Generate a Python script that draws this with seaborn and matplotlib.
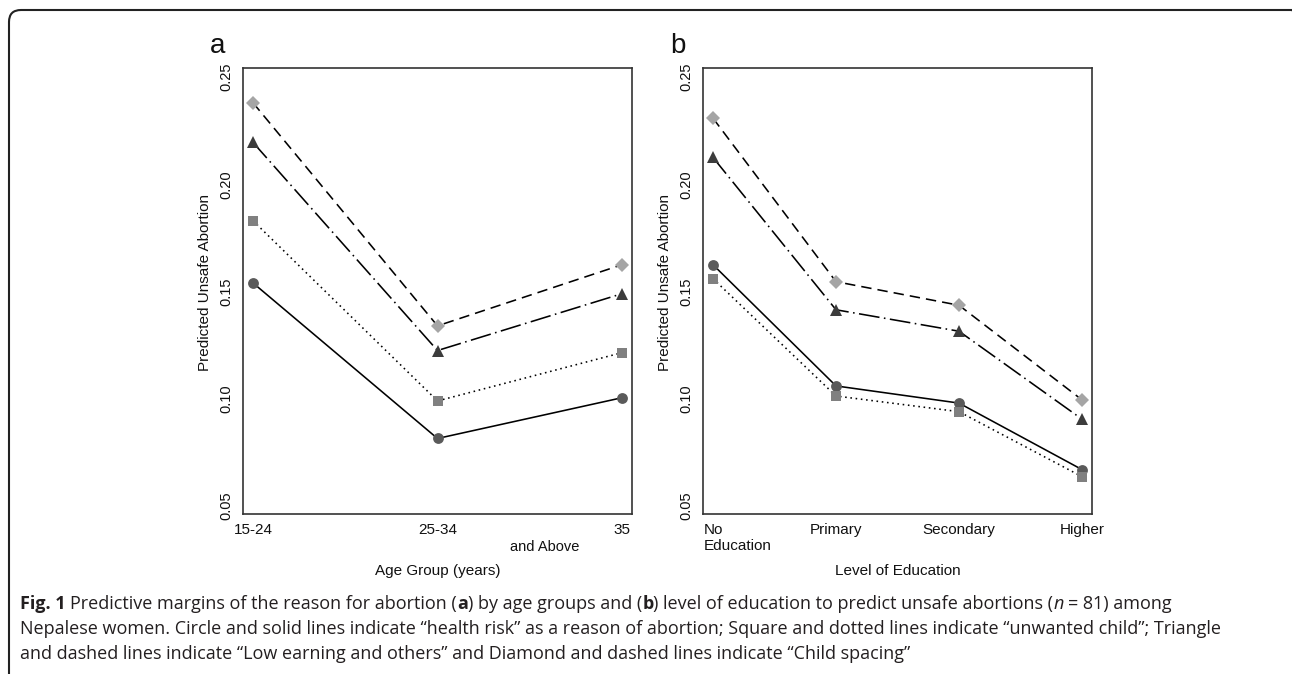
import numpy as np
import pandas as pd
import matplotlib
matplotlib.use("Agg")
import matplotlib.pyplot as plt
import seaborn as sns
from matplotlib.patches import FancyBboxPatch
from matplotlib.transforms import ScaledTranslation

# ---------------- data ----------------
age_groups = ["15-24", "25-34", "35"]
education_levels = ["No\nEducation", "Primary", "Secondary", "Higher"]
y_ticks = [0.05, 0.10, 0.15, 0.20, 0.25]
y_tick_labels = ["0.05", "0.10", "0.15", "0.20", "0.25"]

age_health_risk = [0.154, 0.0815, 0.1005]
age_unwanted_child = [0.183, 0.099, 0.1215]
age_low_earning = [0.2195, 0.1225, 0.149]
age_child_spacing = [0.238, 0.134, 0.1625]

edu_health_risk = [0.1625, 0.106, 0.098, 0.067]
edu_unwanted_child = [0.156, 0.1013, 0.094, 0.0637]
edu_low_earning = [0.2125, 0.1415, 0.1315, 0.0905]
edu_child_spacing = [0.2308, 0.1546, 0.1436, 0.0995]

series_names = ["health risk", "unwanted child", "low earning", "child spacing"]

# ---------------- style ----------------
sns.set_style("white")
plt.rcParams["font.family"] = ["Liberation Sans", "DejaVu Sans"]

W, H, DPI = 1292, 674, 100
fig = plt.figure(figsize=(W / DPI, H / DPI), dpi=DPI)

styles = {
    "health risk": dict(marker="o", ms=7.8, mc="#5a5a5a", ls="-"),
    "unwanted child": dict(marker="s", ms=7.0, mc="#808080", ls=(0, (1, 2.3))),
    "low earning": dict(marker="^", ms=8.3, mc="#3c3c3c", ls=(0, (13, 2.8, 1, 2.8))),
    "child spacing": dict(marker="D", ms=7.2, mc="#a5a5a5", ls=(0, (6.5, 3.8))),
}


def px_box(x0, y0, x1, y1):
    return [x0 / W, 1 - y1 / H, (x1 - x0) / W, (y1 - y0) / H]


ax_a = fig.add_axes(px_box(243, 68, 632, 514))
ax_b = fig.add_axes(px_box(703, 68, 1092, 514))

panels = [
    (ax_a, age_groups, [age_health_risk, age_unwanted_child, age_low_earning, age_child_spacing],
     "Age Group (years)", "a"),
    (ax_b, education_levels, [edu_health_risk, edu_unwanted_child, edu_low_earning, edu_child_spacing],
     "Level of Education", "b"),
]

for ax, cats, vals_list, xlabel, letter in panels:
    xpos = np.arange(len(cats))
    for name, vals in zip(series_names, vals_list):
        st = styles[name]
        df = pd.DataFrame({"x": xpos, "y": vals})
        sns.lineplot(data=df, x="x", y="y", ax=ax, color="black", lw=1.15,
                     linestyle=st["ls"], marker=st["marker"], markersize=st["ms"],
                     markerfacecolor=st["mc"], markeredgecolor=st["mc"],
                     markeredgewidth=0.0, errorbar=None)
    n = len(cats)
    pad_frac = 10 / ((632 - 243) - 20) * (n - 1)
    ax.set_xlim(-pad_frac, n - 1 + pad_frac)
    ax.set_ylim(0.0463, 0.2542)
    ax.set_xticks(xpos)
    ax.set_xticklabels(cats, fontsize=11)
    ax.set_yticks(y_ticks)
    ax.set_yticklabels(y_tick_labels, rotation=90, va="center", fontsize=10.5)
    ax.tick_params(axis="both", direction="out", length=3.8, width=1.0, color="#333333",
                   labelcolor="#111111", pad=2.5)
    ax.tick_params(axis="y", pad=3)
    for sp in ax.spines.values():
        sp.set_visible(True)
        sp.set_linewidth(1.2)
        sp.set_color("#333333")
    ax.set_xlabel(xlabel, fontsize=11, color="#111111")
    ax.xaxis.label.set_va("center")
    ax.xaxis.set_label_coords(0.5, -0.128)
    ax.set_ylabel("Predicted Unsafe Abortion", fontsize=11, color="#111111")
    ax.yaxis.label.set_va("center")
    ax.yaxis.set_label_coords(-0.098, 0.52)
    ax.set_facecolor("white")
    bb = ax.get_position()
    fig.text(bb.x0 - 33 / W, 1 - 53 / H, letter, fontsize=20, ha="left", va="baseline",
             color="#111111")

# special tick label treatments
lbl0 = ax_b.get_xticklabels()[0]
lbl0.set_ha("left")
lbl0.set_multialignment("left")
lbl0.set_transform(lbl0.get_transform() + ScaledTranslation(-9 / DPI, 0, fig.dpi_scale_trans))
ax_a.text(0.776, -0.074, "and Above", transform=ax_a.transAxes, ha="center", va="center",
          fontsize=10.5, color="#111111")

# ---------------- frame ----------------
frame = FancyBboxPatch((9, -40), 1304 - 9, (H - 10) + 40,
                       boxstyle="round,pad=0,rounding_size=12",
                       transform=None, fill=False, lw=1.5, ec="#222222", clip_on=False)
fig.add_artist(frame)

# ---------------- caption ----------------
cap_font = ["Open Sans", "DejaVu Sans"]
cap_size = 13.0
cap_color = "#231f20"
renderer = fig.canvas.get_renderer()


def text_width(s, **kw):
    t = fig.text(0, 0, s, fontsize=cap_size, family=cap_font, **kw)
    w = t.get_window_extent(renderer).width
    t.remove()
    return w


def rich_line(x_px, base_px, pieces):
    x = x_px
    for s, kw in pieces:
        lead = len(s) - len(s.lstrip(" "))
        trail = len(s) - len(s.rstrip(" "))
        sp = text_width("x x", **kw) - text_width("xx", **kw)
        x += lead * sp
        t = fig.text(x / W, 1 - base_px / H, s.strip(" "), fontsize=cap_size, family=cap_font,
                     ha="left", va="baseline", color=cap_color, **kw)
        x = t.get_window_extent(renderer).x1 + trail * sp


N = {}
B = {"fontweight": "bold"}
I = {"fontstyle": "italic"}
rich_line(20, 609, [("Fig. 1", B), (" Predictive margins of the reason for abortion (", N), ("a", B),
                    (") by age groups and (", N), ("b", B),
                    (") level of education to predict unsafe abortions (", N), ("n", I),
                    (" = 81) among", N)])
rich_line(20, 634, [("Nepalese women. Circle and solid lines indicate \u201chealth risk\u201d as a reason of "
                     "abortion; Square and dotted lines indicate \u201cunwanted child\u201d; Triangle", N)])
rich_line(20, 659, [("and dashed lines indicate \u201cLow earning and others\u201d and Diamond and dashed "
                     "lines indicate \u201cChild spacing\u201d", N)])

fig.savefig("out.png", dpi=DPI, facecolor="white")
